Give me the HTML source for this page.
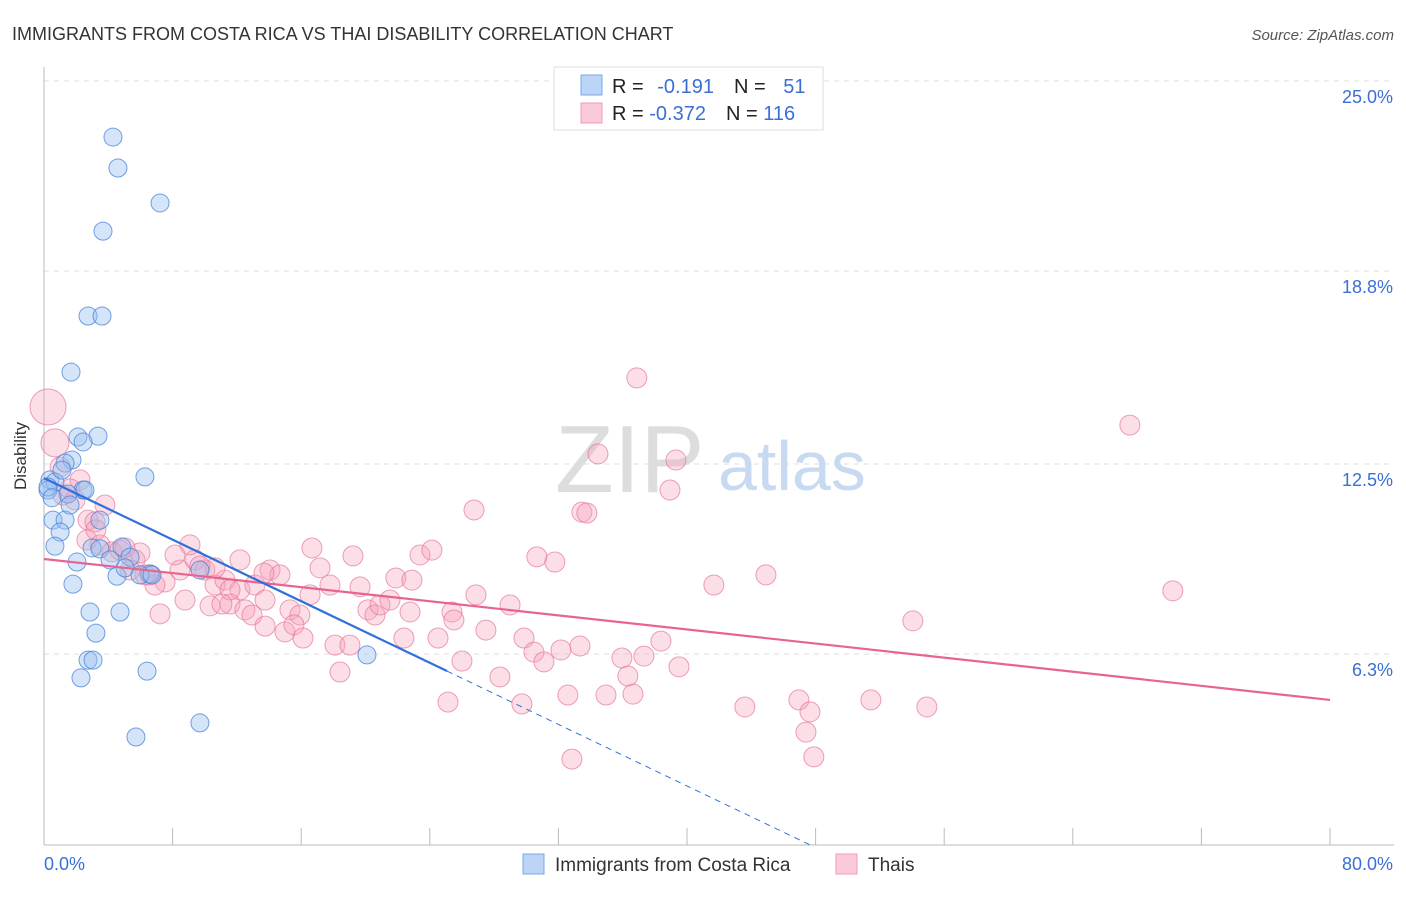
<!DOCTYPE html>
<html><head><meta charset="utf-8">
<style>
body{margin:0;background:#fff;width:1406px;height:892px;overflow:hidden;font-family:"Liberation Sans",sans-serif}
svg text{font-family:"Liberation Sans",sans-serif}
</style></head>
<body>
<svg id="chart" width="1406" height="892" xmlns="http://www.w3.org/2000/svg">
<text x="12" y="40" font-size="18" fill="#333">IMMIGRANTS FROM COSTA RICA VS THAI DISABILITY CORRELATION CHART</text>
<text x="1394" y="40" font-size="15" fill="#555" font-style="italic" text-anchor="end">Source: ZipAtlas.com</text>
<g id="grid"></g>
<g>
<text x="555" y="492" font-size="96" fill="#ddd" font-family="Liberation Serif,serif">ZIP</text>
<text x="718" y="490" font-size="70" fill="#c8daf2">atlas</text>
</g>
<g id="axes"></g>
<g id="pink"></g>
<g id="blue"></g>
<g id="trends"></g>
<g>
<rect x="554" y="67" width="269" height="63" fill="#fff" stroke="#ddd"/>
<rect x="581" y="75" width="21" height="20" fill="#bcd4f5" stroke="#7aa8e8"/>
<rect x="581" y="103" width="21" height="20" fill="#fbcad8" stroke="#f09ab5"/>
<text x="612" y="93" font-size="20" fill="#222">R = <tspan fill="#3b6fd6" dx="8">-0.191</tspan><tspan dx="20" fill="#222">N = </tspan><tspan dx="12" fill="#3b6fd6">51</tspan></text>
<text x="612" y="120" font-size="20" fill="#222">R = <tspan fill="#3b6fd6">-0.372</tspan><tspan dx="20" fill="#222">N = </tspan><tspan fill="#3b6fd6">116</tspan></text>
</g>
<g>
<rect x="523" y="854" width="21" height="20" fill="#bcd4f5" stroke="#7aa8e8"/>
<text x="555" y="871" font-size="19" fill="#333">Immigrants from Costa Rica</text>
<rect x="836" y="854" width="21" height="20" fill="#fbcad8" stroke="#f09ab5"/>
<text x="868" y="871" font-size="19" fill="#333">Thais</text>
</g>
<text x="26" y="456" font-size="17" fill="#333" transform="rotate(-90 26 456)" text-anchor="middle">Disability</text>
</svg>
<script>
const blueX=[4.29,4.60,7.22,3.67,2.74,3.61,1.68,2.11,3.36,2.43,1.74,1.31,6.28,0.37,0.68,0.25,2.43,2.55,1.49,0.56,1.31,1.00,0.68,2.99,4.85,3.48,5.35,2.05,1.80,4.54,5.04,6.59,9.70,2.86,4.73,3.23,2.74,3.05,2.30,6.41,9.70,5.72,20.09,1.62,1.12,4.11,5.97,6.72,0.25,3.48,0.5];
const blueY=[23.17,22.16,21.02,20.10,17.33,17.33,15.50,13.38,13.41,13.22,12.63,12.53,12.08,11.98,11.91,11.65,11.65,11.65,11.52,10.67,10.67,10.28,9.82,9.76,9.79,9.73,9.46,9.30,8.58,8.84,9.11,8.91,9.04,7.67,7.67,6.98,6.10,6.10,5.52,5.74,4.05,3.59,6.27,11.16,12.30,9.37,8.88,8.88,11.75,10.67,11.4];
const pinkX=[0.25,0.68,1.00,1.18,1.93,2.74,3.17,2.67,3.48,4.23,4.73,5.66,6.59,7.53,8.46,9.39,10.01,10.64,11.26,12.19,13.12,13.75,14.06,14.68,15.30,15.92,16.55,17.17,16.67,17.79,18.10,18.41,19.03,19.66,19.22,20.15,20.59,20.90,21.52,21.89,22.39,22.77,22.89,23.39,24.13,24.51,25.38,25.50,26.00,25.13,26.75,26.87,27.49,28.36,28.99,29.86,29.73,30.48,31.10,30.66,31.78,32.16,32.59,32.84,33.34,33.46,33.77,34.46,34.96,35.95,36.32,36.64,36.88,37.32,38.38,38.94,39.31,39.50,41.67,43.60,44.91,46.96,47.40,47.65,47.89,51.44,54.05,54.92,67.55,70.22,7.22,8.77,10.33,11.57,12.50,9.08,8.15,10.64,12.94,14.99,15.55,16.11,5.97,5.04,3.79,2.24,1.62,6.90,6.28,13.68,12.19,3.23,5.35,9.70,11.57,13.75,11.07];
const pinkY=[14.36,13.19,12.40,11.49,11.33,10.67,10.61,10.02,9.86,9.63,9.69,9.37,8.88,8.65,9.04,9.37,9.04,8.55,8.71,8.39,8.55,8.06,9.04,8.88,7.74,7.57,8.23,9.11,9.76,8.55,6.59,5.71,6.59,8.49,9.50,7.74,7.57,7.90,8.06,8.78,6.82,7.67,8.71,9.53,9.69,6.82,7.67,7.41,6.07,4.73,11.00,8.23,7.08,5.55,7.90,6.82,4.67,6.36,6.04,9.47,9.30,6.43,4.96,2.87,6.56,10.93,10.90,12.83,4.96,6.17,5.58,4.99,15.31,6.23,6.72,11.65,12.63,5.88,8.55,4.57,8.88,4.80,3.75,4.41,2.94,4.80,7.38,4.57,13.77,8.36,7.61,8.06,7.87,7.93,7.74,9.86,9.53,9.11,7.57,7.02,7.25,6.82,9.60,9.76,11.16,11.98,11.69,8.55,8.88,8.94,9.37,10.35,9.04,9.17,8.39,7.21,7.93];
const yTicks=[25.0,18.8,12.5,6.3];
const xTickLabels=["0.0%","80.0%"];
const blueTrend=[12.04,-0.2512]; // intercept, slope
const pinkTrend=[9.40,-0.0575];
const blueSolidEnd=25.07, blueDashEnd=47.77;

const NS="http://www.w3.org/2000/svg";
const X0=44,X1=1330,Y0=847;
const sx=v=>X0+v/80*(X1-X0);
const sy=v=>Y0-v*30.64;
function mk(t,a,p){const e=document.createElementNS(NS,t);for(const k in a)e.setAttribute(k,a[k]);p.appendChild(e);return e;}
const grid=document.getElementById('grid'),axes=document.getElementById('axes');
yTicks.forEach(t=>{
  const l=mk('line',{x1:X0,x2:1394,y1:sy(t),y2:sy(t),stroke:'#ddd','stroke-dasharray':'5,5'},grid);
  
  
  const tx=mk('text',{x:1393,y:sy(t)+22,'font-size':18,fill:'#3b6fd6','text-anchor':'end'},axes);
  tx.textContent=t.toFixed(1)+'%';
  
  
});
const ya=mk('line',{x1:X0,x2:X0,y1:67,y2:845,stroke:'#bbb'},axes);


const xa=mk('line',{x1:X0,x2:1394,y1:845,y2:845,stroke:'#bbb'},axes);


for(let i=0;i<=10;i++){
  const t=mk('line',{x1:sx(i*8),x2:sx(i*8),y1:828,y2:845,stroke:'#bbb'},axes);
  
  
}
const xl0=mk('text',{x:44,y:870,'font-size':18,fill:'#3b6fd6'},axes);xl0.textContent=xTickLabels[0];


const xl1=mk('text',{x:1393,y:870,'font-size':18,fill:'#3b6fd6','text-anchor':'end'},axes);xl1.textContent=xTickLabels[1];


const pg=document.getElementById('pink');
pinkX.forEach((x,i)=>{
  const r=i==0?18:(i==1?14:10);
  const c=mk('circle',{cx:sx(x),cy:sy(pinkY[i]),r:r,fill:'rgba(245,160,185,0.35)',stroke:'rgba(230,120,155,0.7)','stroke-width':1},pg);
  
  
});
const bg=document.getElementById('blue');
blueX.forEach((x,i)=>{
  const c=mk('circle',{cx:sx(x),cy:sy(blueY[i]),r:9,fill:'rgba(150,190,240,0.4)',stroke:'rgba(70,130,215,0.75)','stroke-width':1},bg);
  
  
});
const tg=document.getElementById('trends');
const pl=mk('line',{x1:sx(0),y1:sy(pinkTrend[0]),x2:sx(80),y2:sy(pinkTrend[0]+pinkTrend[1]*80),stroke:'#e8648f','stroke-width':2.2},tg);


const bl=mk('line',{x1:sx(0),y1:sy(blueTrend[0]),x2:sx(blueSolidEnd),y2:sy(blueTrend[0]+blueTrend[1]*blueSolidEnd),stroke:'#2f6fd8','stroke-width':2.2},tg);


const bd=mk('line',{x1:sx(blueSolidEnd),y1:sy(blueTrend[0]+blueTrend[1]*blueSolidEnd),x2:sx(blueDashEnd),y2:sy(blueTrend[0]+blueTrend[1]*blueDashEnd),stroke:'#2f6fd8','stroke-width':1,'stroke-dasharray':'6,5'},tg);


</script>
</body></html>
